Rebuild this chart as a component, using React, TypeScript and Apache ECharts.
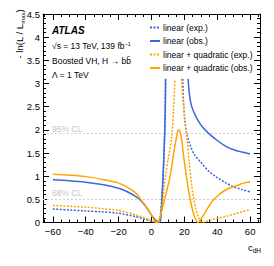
import React, { useEffect, useRef } from "react";
import * as echarts from "echarts";

const BLUE = "#3d66dc";
const ORANGE = "#ffa500";
const FONT = "Liberation Sans, Arial, Helvetica, sans-serif";

const seriesNames = [
  "linear (exp.)",
  "linear (obs.)",
  "linear + quadratic (exp.)",
  "linear + quadratic (obs.)",
];

const xMajorTicks = [-60, -40, -20, 0, 20, 40, 60];
const xMinorTicks = [-65, -55, -50, -45, -35, -30, -25, -15, -10, -5, 5, 10, 15, 25, 30, 35, 45, 50, 55, 65];
const clLevels = [0.5, 1.92];
const clLabels = ["68% CL", "95% CL"];

// linear (exp.)
const linExpLeftX = [-60, -50, -40, -30, -20, -10, -5, 0, 3, 4.5, 5.5, 6.5, 7.3, 7.9, 8.3, 8.5];
const linExpLeftY = [0.29, 0.27, 0.25, 0.23, 0.2, 0.13, 0.08, 0.03, 0.005, 0, 0.2, 0.7, 1.2, 1.8, 2.4, 3.1];
const linExpRightX = [19, 19.5, 20.3, 21.5, 23.4, 26, 30, 35, 40, 45, 50, 55, 60];
const linExpRightY = [3.1, 2.6, 2.2, 1.9, 1.68, 1.47, 1.3, 1.1, 0.97, 0.86, 0.77, 0.71, 0.66];

// linear (obs.)
const linObsLeftX = [-60, -50, -40, -30, -20, -15, -10, -7, -4, -2, 0, 2, 4, 5.2, 6, 6.8, 7.5, 8, 8.4, 8.6];
const linObsLeftY = [0.92, 0.9, 0.87, 0.82, 0.74, 0.67, 0.57, 0.49, 0.37, 0.27, 0.16, 0.07, 0.01, 0, 0.25, 0.8, 1.4, 1.9, 2.5, 3.1];
const linObsRightX = [22.3, 22.8, 23.8, 25.5, 28.2, 31, 34.6, 40, 45, 50, 55, 60];
const linObsRightY = [3.1, 2.85, 2.6, 2.4, 2.21, 2.06, 1.93, 1.77, 1.65, 1.57, 1.52, 1.48];

// linear + quadratic (exp.)
const quadExpLeftX = [-60, -50, -40, -30, -20, -10, -5, 0, 2, 4, 6, 8.2, 10.3, 12.3, 13.4, 14.3];
const quadExpLeftY = [0.37, 0.35, 0.33, 0.3, 0.26, 0.17, 0.11, 0.04, 0.01, 0, 0.25, 0.92, 1.4, 1.85, 2.45, 3.1];
const quadExpRightX = [18.2, 19, 20, 21.4, 23, 24.5, 25.5, 27, 28.5, 30.8, 33, 36, 40, 45, 50, 55, 60];
const quadExpRightY = [3.1, 2.7, 2.3, 1.9, 1.3, 0.8, 0.56, 0.3, 0.12, 0, 0.02, 0.05, 0.09, 0.13, 0.18, 0.23, 0.28];

// linear + quadratic (obs.)
const quadObsX = [-60, -50, -40, -30, -20, -15, -10, -7, -4, -2, 0, 1.5, 3.2, 5, 7, 9, 10.9, 12.5, 14, 15.3, 16.5, 17.5, 18.5, 19.5, 21, 22.5, 24, 25.5, 27, 28.2, 30, 32, 34, 36, 38, 41, 44, 48, 52, 56, 60];
const quadObsY = [1.04, 1.02, 0.99, 0.93, 0.85, 0.77, 0.65, 0.52, 0.38, 0.28, 0.16, 0.06, 0, 0.1, 0.35, 0.65, 0.92, 1.25, 1.6, 1.85, 2.0, 1.95, 1.75, 1.45, 1.05, 0.7, 0.42, 0.2, 0.06, 0, 0.07, 0.18, 0.3, 0.41, 0.5, 0.6, 0.68, 0.75, 0.8, 0.85, 0.88];

const pts = (xs: number[], ys: number[]) => xs.map((x, i) => [x, ys[i]]);
const gap = (x: number) => [x, "-"];

const seriesColors = [BLUE, BLUE, ORANGE, ORANGE];
const seriesDotted = [true, false, true, false];
const DOT: number[] = [2, 1.5];

export default function App() {
  const ref = useRef<HTMLDivElement>(null);
  useEffect(() => {
    if (!ref.current) return;
    const chart = echarts.init(ref.current, undefined, { renderer: "svg" });
    const fmt = (v: number) => String(v).replace("-", "\u2212");

    const datas = [
      [...pts(linExpLeftX, linExpLeftY), gap(12), ...pts(linExpRightX, linExpRightY)],
      [...pts(linObsLeftX, linObsLeftY), gap(15), ...pts(linObsRightX, linObsRightY)],
      [...pts(quadExpLeftX, quadExpLeftY), gap(16), ...pts(quadExpRightX, quadExpRightY)],
      pts(quadObsX, quadObsY),
    ];

    const series: any[] = seriesNames.map((name, i) => ({
      name,
      type: "line",
      data: datas[i],
      showSymbol: false,
      symbol: "none",
      smooth: 0.3,
      connectNulls: false,
      clip: true,
      xAxisIndex: 0,
      yAxisIndex: 0,
      color: seriesColors[i],
      itemStyle: { color: seriesColors[i] },
      lineStyle: {
        color: seriesColors[i],
        width: 1.5,
        type: seriesDotted[i] ? DOT : "solid",
      },
      z: 3 + i,
    }));
    series[0].markLine = {
      silent: true,
      symbol: "none",
      label: { show: false },
      lineStyle: { color: "#cfcfcf", type: [2, 2], width: 1 },
      data: clLevels.map((v) => ({ yAxis: v })),
      z: 1,
    };

    const axisLineStyle = { color: "#000", width: 1 };
    const xBase = {
      type: "value",
      min: -66,
      max: 66,
      splitLine: { show: false },
      gridIndex: 0,
    };
    const yBase = {
      type: "value",
      min: 0,
      max: 4.5,
      interval: 0.5,
      splitLine: { show: false },
      gridIndex: 0,
    };

    const clY = [193, 128.5];

    chart.setOption({
      animation: false,
      textStyle: { fontFamily: FONT },
      grid: { left: 43, right: 14, top: 14, bottom: 43.5, outerBoundsMode: "none", containLabel: false },
      legend: {
        show: true,
        orient: "vertical",
        left: 149,
        top: 22.5,
        itemWidth: 10,
        itemHeight: 10,
        itemGap: 3.5,
        padding: 0,
        selectedMode: false,
        itemStyle: { color: "rgba(0,0,0,0)", borderWidth: 0, opacity: 0 },
        data: seriesNames,
        textStyle: { fontSize: 8.5, color: "#000", fontFamily: FONT, lineHeight: 10, padding: [0, 0, 0, -2] },
      },
      xAxis: [
        {
          ...xBase,
          position: "bottom",
          axisLine: { show: true, onZero: false, lineStyle: axisLineStyle },
          axisTick: { show: true, inside: true, length: 6, lineStyle: axisLineStyle, customValues: xMajorTicks },
          axisLabel: { show: true, customValues: xMajorTicks, formatter: fmt, fontSize: 9.5, color: "#000", margin: 4, fontFamily: FONT },
        },
        {
          ...xBase,
          position: "bottom",
          axisLine: { show: false, onZero: false },
          axisTick: { show: true, inside: true, length: 3, lineStyle: axisLineStyle, customValues: xMinorTicks },
          axisLabel: { show: false },
        },
        {
          ...xBase,
          position: "top",
          axisLine: { show: true, onZero: false, lineStyle: axisLineStyle },
          axisTick: { show: true, inside: true, length: 6, lineStyle: axisLineStyle, customValues: xMajorTicks },
          axisLabel: { show: false },
        },
        {
          ...xBase,
          position: "top",
          axisLine: { show: false, onZero: false },
          axisTick: { show: true, inside: true, length: 3, lineStyle: axisLineStyle, customValues: xMinorTicks },
          axisLabel: { show: false },
        },
      ],
      yAxis: [
        {
          ...yBase,
          position: "left",
          axisLine: { show: true, onZero: false, lineStyle: axisLineStyle },
          axisTick: { show: true, inside: true, length: 6, lineStyle: axisLineStyle },
          minorTick: { show: true, splitNumber: 5, length: 3, lineStyle: axisLineStyle },
          axisLabel: { show: true, fontSize: 9.5, color: "#000", margin: 3, fontFamily: FONT },
        },
        {
          ...yBase,
          position: "right",
          axisLine: { show: true, onZero: false, lineStyle: axisLineStyle },
          axisTick: { show: true, inside: true, length: 6, lineStyle: axisLineStyle },
          minorTick: { show: true, splitNumber: 5, length: 3, lineStyle: axisLineStyle },
          axisLabel: { show: false },
        },
      ],
      series,
      graphic: [
        {
          type: "text",
          x: 52,
          y: 30,
          style: { text: "ATLAS", fontSize: 10, fontWeight: "bold", fontStyle: "italic", fontFamily: FONT, fill: "#000", verticalAlign: "middle" },
        },
        {
          type: "text",
          x: 52,
          y: 46,
          style: {
            text: "\u221As = 13 TeV, 139 fb{sup|\u22121}",
            fontSize: 8.5,
            fontFamily: FONT,
            fill: "#000",
            verticalAlign: "middle",
            rich: { sup: { fontSize: 5.5, fontFamily: FONT, fill: "#000", verticalAlign: "top", lineHeight: 10 } },
          },
        },
        {
          type: "text",
          x: 52,
          y: 60.5,
          style: { text: "Boosted VH, H \u2192 bb\u0304", fontSize: 8.5, fontFamily: FONT, fill: "#000", verticalAlign: "middle" },
        },
        {
          type: "text",
          x: 52,
          y: 74.5,
          style: { text: "\u039B = 1 TeV", fontSize: 8.5, fontFamily: FONT, fill: "#000", verticalAlign: "middle" },
        },
        ...clLabels.map((t, i) => ({
          type: "text",
          x: 52,
          y: clY[i],
          style: { text: t, fontSize: 8.5, fontFamily: FONT, fill: "#c4c4c4", verticalAlign: "middle" },
        })),
        {
          type: "text",
          x: 19,
          y: 34,
          rotation: Math.PI / 2,
          style: {
            text: "- ln(L / L{sub|max})",
            fontSize: 9.5,
            fontFamily: FONT,
            fill: "#000",
            align: "center",
            verticalAlign: "middle",
            rich: { sub: { fontSize: 6, fontFamily: FONT, fill: "#000", verticalAlign: "bottom", lineHeight: 14 } },
          },
        },
        {
          type: "text",
          x: 261,
          y: 247,
          style: {
            text: "c{sub|dH}",
            fontSize: 9.5,
            fontFamily: FONT,
            fill: "#000",
            align: "right",
            verticalAlign: "middle",
            rich: { sub: { fontSize: 6.5, fontFamily: FONT, fill: "#000", verticalAlign: "bottom", lineHeight: 14 } },
          },
        },
      ],
    });
    return () => chart.dispose();
  }, []);
  return <div ref={ref} style={{ width: 274, height: 266, position: "absolute", left: 0, top: 0 }} />;
}
